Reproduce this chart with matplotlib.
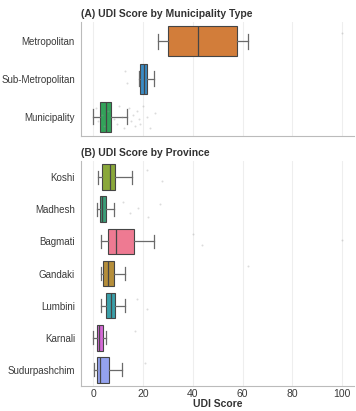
import matplotlib
matplotlib.use("Agg")
import matplotlib.pyplot as plt
import numpy as np

plt.rcParams['font.family'] = ['Liberation Sans', 'DejaVu Sans']

# Panel A: municipality types (box summary statistics of UDI score)
types = ["Metropolitan", "Sub-Metropolitan", "Municipality"]
type_q1 = [30.1, 18.9, 2.8]
type_med = [42.1, 20.5, 5.0]
type_q3 = [57.8, 21.8, 7.2]
type_lo = [26.2, 18.6, 0.0]
type_hi = [62.3, 24.4, 13.6]
type_colors = ["#D27D3A", "#3B8BC4", "#33A25A"]
type_points = [
    [100.0],
    [12.8, 13.5],
    [14.5, 15.2, 16.0, 16.8, 17.5, 18.3, 19.0, 20.2, 21.5, 23.0, 25.0,
     1.0, 2.0, 3.5, 4.5, 6.0, 8.5, 9.5, 10.5, 11.5, 12.5],
]

# Panel B: provinces
provinces = ["Koshi", "Madhesh", "Bagmati", "Gandaki", "Lumbini", "Karnali", "Sudurpashchim"]
prov_q1 = [3.7, 2.7, 5.9, 4.1, 5.2, 1.5, 1.6]
prov_med = [6.8, 3.7, 9.1, 5.9, 7.2, 2.5, 2.8]
prov_q3 = [8.6, 5.1, 16.3, 8.2, 8.9, 3.9, 6.3]
prov_lo = [1.9, 1.6, 3.1, 3.2, 3.1, -0.1, 0.5]
prov_hi = [15.8, 8.3, 24.5, 12.6, 12.6, 5.3, 11.6]
prov_colors = ["#8AA83A", "#3A9E78", "#EE7A92", "#B58E3A", "#3AA0AA", "#D46AD6", "#94A2EE"]
prov_points = [
    [21.5, 27.6],
    [12.0, 15.0, 18.0, 22.0, 27.0],
    [40.0, 43.6, 100.0],
    [62.3],
    [17.5, 21.5],
    [16.9],
    [21.0],
]

xticks = [0, 20, 40, 60, 80, 100]

fig = plt.figure(figsize=(3.56, 4.11), dpi=100)
ax1 = fig.add_axes([0.228, 0.670, 0.767, 0.276])
ax2 = fig.add_axes([0.228, 0.061, 0.767, 0.547])

edge = "#454545"
offsets = [-0.22, 0.12, -0.05, 0.25, -0.15, 0.05, 0.18, -0.28, 0.0, 0.3, -0.1]


def draw(ax, cats, q1, med, q3, lo, hi, colors, points, title):
    stats = []
    for i in range(len(cats)):
        stats.append(dict(q1=q1[i], med=med[i], q3=q3[i], whislo=lo[i], whishi=hi[i],
                          fliers=[], label=cats[i]))
    pos = np.arange(len(cats))
    bp = ax.bxp(stats, positions=pos, vert=False, widths=0.8, patch_artist=True,
                showfliers=False,
                boxprops=dict(edgecolor=edge, linewidth=0.8),
                medianprops=dict(color=edge, linewidth=0.9),
                whiskerprops=dict(color="#6a6a6a", linewidth=0.9),
                capprops=dict(color="#6a6a6a", linewidth=0.9), capwidths=0.4)
    for patch, c in zip(bp["boxes"], colors):
        patch.set_facecolor(c)
    for i, pts in enumerate(points):
        ys = [pos[i] + offsets[k % len(offsets)] for k in range(len(pts))]
        ax.scatter(pts, ys, s=2, color="#999999", alpha=0.35, linewidths=0, zorder=3)
    ax.set_yticks(pos)
    ax.set_yticklabels(cats)
    ax.set_ylim(len(cats) - 0.5, -0.5)
    ax.set_xlim(-4.8, 104.8)
    ax.set_xticks(xticks)
    ax.grid(axis="x", color="#eeeeee", linewidth=0.8)
    ax.set_axisbelow(True)
    for s in ["top", "right"]:
        ax.spines[s].set_visible(False)
    for s in ["left", "bottom"]:
        ax.spines[s].set_color("#bbbbbb")
        ax.spines[s].set_linewidth(0.8)
    ax.tick_params(axis="y", length=0, labelsize=7.0, colors="#3a3a3a", pad=4.5)
    ax.tick_params(axis="x", length=0, labelsize=7.5, colors="#3a3a3a", pad=2)
    ax.set_title(title, loc="left", fontsize=7.5, fontweight="bold", color="#333333", pad=4)


draw(ax1, types, type_q1, type_med, type_q3, type_lo, type_hi, type_colors, type_points,
     "(A) UDI Score by Municipality Type")
ax1.set_xticklabels([])
draw(ax2, provinces, prov_q1, prov_med, prov_q3, prov_lo, prov_hi, prov_colors, prov_points,
     "(B) UDI Score by Province")
ax2.set_xlabel("UDI Score", fontsize=7.5, fontweight="bold", color="#333333", labelpad=0)

fig.savefig("out.png", dpi=100)
